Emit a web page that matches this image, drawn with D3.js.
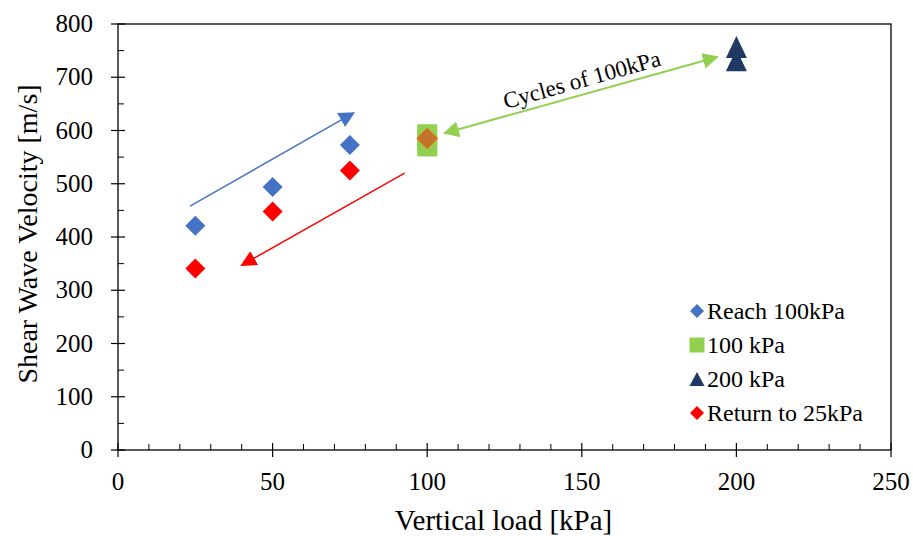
<!DOCTYPE html>
<html>
<head>
<meta charset="utf-8">
<script src="https://cdn.jsdelivr.net/npm/d3@7"></script>
<style>
  body { margin: 0; background: #fff; }
</style>
</head>
<body>
<div id="chart"></div>
<script>
// series values
const reachX = [25, 50, 75];
const reachY = [421, 494, 573];
const plateauX = [100, 100, 100];
const plateauY = [593, 582, 570];
const highX = [200, 200];
const highY = [757, 732];
const returnX = [100, 75, 50, 25];
const returnY = [585, 525, 448, 341];

const xTicks = [0, 50, 100, 150, 200, 250];
const yTicks = [0, 100, 200, 300, 400, 500, 600, 700, 800];

const legendLabels = ['Reach 100kPa', '100 kPa', '200 kPa', 'Return to 25kPa'];

// annotation arrows, in data units: [x0, y0, x1, y1]
const blueArrow = [23.3, 458, 76.2, 633];
const redArrow = [92.7, 520, 40, 347];
const cyclesArrow = [105.6, 595, 193.8, 738];
const cyclesLabel = 'Cycles of 100kPa';

const W = 913, H = 536;
const margin = { left: 118, right: 22, top: 24, bottom: 86 };
const FONT = "'Liberation Serif'";

const svg = d3.select('#chart').append('svg')
  .attr('width', W)
  .attr('height', H);

const x = d3.scaleLinear().domain([0, 250]).range([margin.left, W - margin.right]);
const y = d3.scaleLinear().domain([0, 800]).range([H - margin.bottom, margin.top]);

// plot frame
svg.append('rect')
  .attr('x', x(0)).attr('y', y(800))
  .attr('width', x(250) - x(0)).attr('height', y(0) - y(800))
  .attr('fill', 'none').attr('stroke', '#000').attr('stroke-width', 1.3);

// minor ticks (inside)
const minorX = d3.range(0, 251, 10).filter(v => v % 50 !== 0);
svg.selectAll('.mx').data(minorX).enter().append('line')
  .attr('x1', d => x(d)).attr('x2', d => x(d))
  .attr('y1', y(0)).attr('y2', y(0) - 6)
  .attr('stroke', '#000').attr('stroke-width', 1);
const minorY = d3.range(50, 800, 100);
svg.selectAll('.my').data(minorY).enter().append('line')
  .attr('x1', x(0)).attr('x2', x(0) + 6)
  .attr('y1', d => y(d)).attr('y2', d => y(d))
  .attr('stroke', '#000').attr('stroke-width', 1);

// major ticks cross the axis
svg.selectAll('.tx').data(xTicks).enter().append('line')
  .attr('x1', d => x(d)).attr('x2', d => x(d))
  .attr('y1', y(0) - 7).attr('y2', y(0) + 7)
  .attr('stroke', '#000').attr('stroke-width', 1.2);
svg.selectAll('.ty').data(yTicks).enter().append('line')
  .attr('x1', x(0) - 7).attr('x2', x(0) + 7)
  .attr('y1', d => y(d)).attr('y2', d => y(d))
  .attr('stroke', '#000').attr('stroke-width', 1.2);

// tick labels
svg.selectAll('.lx').data(xTicks).enter().append('text')
  .attr('x', d => x(d)).attr('y', y(0) + 40)
  .attr('text-anchor', 'middle')
  .style('font-family', FONT).style('font-size', '25px')
  .text(d => d);
svg.selectAll('.ly').data(yTicks).enter().append('text')
  .attr('x', x(0) - 25).attr('y', d => y(d) + 8)
  .attr('text-anchor', 'end')
  .style('font-family', FONT).style('font-size', '25px')
  .text(d => d);

// axis titles
svg.append('text')
  .attr('x', (x(0) + x(250)) / 2 - 1).attr('y', 530)
  .attr('text-anchor', 'middle')
  .style('font-family', FONT).style('font-size', '29px')
  .text('Vertical load [kPa]');
svg.append('text')
  .attr('transform', `translate(37,${(y(0) + y(800)) / 2 - 3}) rotate(-90)`)
  .attr('text-anchor', 'middle')
  .style('font-family', FONT).style('font-size', '28px')
  .text('Shear Wave Velocity [m/s]');

// marker shapes
function diamond(r) { return `M0,${-r}L${r},0L0,${r}L${-r},0Z`; }
function square(s) { return `M${-s / 2},${-s / 2}h${s}v${s}h${-s}Z`; }
function triangle(w, h) { return `M0,${-h / 2}L${w / 2},${h / 2}L${-w / 2},${h / 2}Z`; }

// arrows
const defs = svg.append('defs');
function head(id, color) {
  defs.append('marker')
    .attr('id', id).attr('viewBox', '0 0 10 10')
    .attr('refX', 9).attr('refY', 5)
    .attr('markerWidth', 16).attr('markerHeight', 16)
    .attr('markerUnits', 'userSpaceOnUse')
    .attr('orient', 'auto-start-reverse')
    .append('path').attr('d', 'M0,0L10,5L0,10Z').attr('fill', color);
}
head('hb', '#4472C4');
head('hr', '#FF0000');
head('hg', '#92D050');

function arrow(a, color, w, id, both) {
  const l = svg.append('line')
    .attr('x1', x(a[0])).attr('y1', y(a[1]))
    .attr('x2', x(a[2])).attr('y2', y(a[3]))
    .attr('stroke', color).attr('stroke-width', w)
    .attr('marker-end', `url(#${id})`);
  if (both) l.attr('marker-start', `url(#${id})`);
}
arrow(blueArrow, '#4472C4', 1.5, 'hb', false);
arrow(redArrow, '#FF0000', 1.5, 'hr', false);
arrow(cyclesArrow, '#92D050', 2, 'hg', true);

const ang = Math.atan2(y(cyclesArrow[3]) - y(cyclesArrow[1]), x(cyclesArrow[2]) - x(cyclesArrow[0])) * 180 / Math.PI;
svg.append('text')
  .attr('transform', `translate(${(x(cyclesArrow[0]) + x(cyclesArrow[2])) / 2 + 3},${(y(cyclesArrow[1]) + y(cyclesArrow[3])) / 2 - 8}) rotate(${ang})`)
  .attr('text-anchor', 'middle')
  .style('font-family', FONT).style('font-size', '23px')
  .text(cyclesLabel);

// series
svg.selectAll('.reach').data(reachX).enter().append('path')
  .attr('transform', (d, i) => `translate(${x(d)},${y(reachY[i])})`)
  .attr('d', diamond(10)).attr('fill', '#4472C4');

svg.selectAll('.plateau').data(plateauX).enter().append('path')
  .attr('transform', (d, i) => `translate(${x(d)},${y(plateauY[i])})`)
  .attr('d', square(20)).attr('fill', '#92D050');

svg.selectAll('.high').data(highX).enter().append('path')
  .attr('transform', (d, i) => `translate(${x(d)},${y(highY[i])})`)
  .attr('d', triangle(21, 22)).attr('fill', '#203864');

// the return point at 100 kPa sits semi-transparent over the green squares
svg.selectAll('.ret').data(returnX).enter().append('path')
  .attr('transform', (d, i) => `translate(${x(d)},${y(returnY[i])})`)
  .attr('d', diamond(10))
  .attr('fill', '#FF0000')
  .attr('fill-opacity', d => d === 100 ? 0.45 : 1)
  .attr('stroke', d => d === 100 ? '#E0701A' : 'none')
  .attr('stroke-width', 1.2);

// legend
const legendShapes = [diamond(7), square(15), triangle(15, 14), diamond(7)];
const legendColors = ['#4472C4', '#92D050', '#203864', '#FF0000'];
const lg = svg.selectAll('.lg').data(legendLabels).enter().append('g')
  .attr('transform', (d, i) => `translate(697,${311 + i * 34})`);
lg.append('path').attr('d', (d, i) => legendShapes[i]).attr('fill', (d, i) => legendColors[i]);
lg.append('text').attr('x', 10).attr('y', 8)
  .style('font-family', FONT).style('font-size', '24px')
  .text(d => d);
</script>
</body>
</html>
